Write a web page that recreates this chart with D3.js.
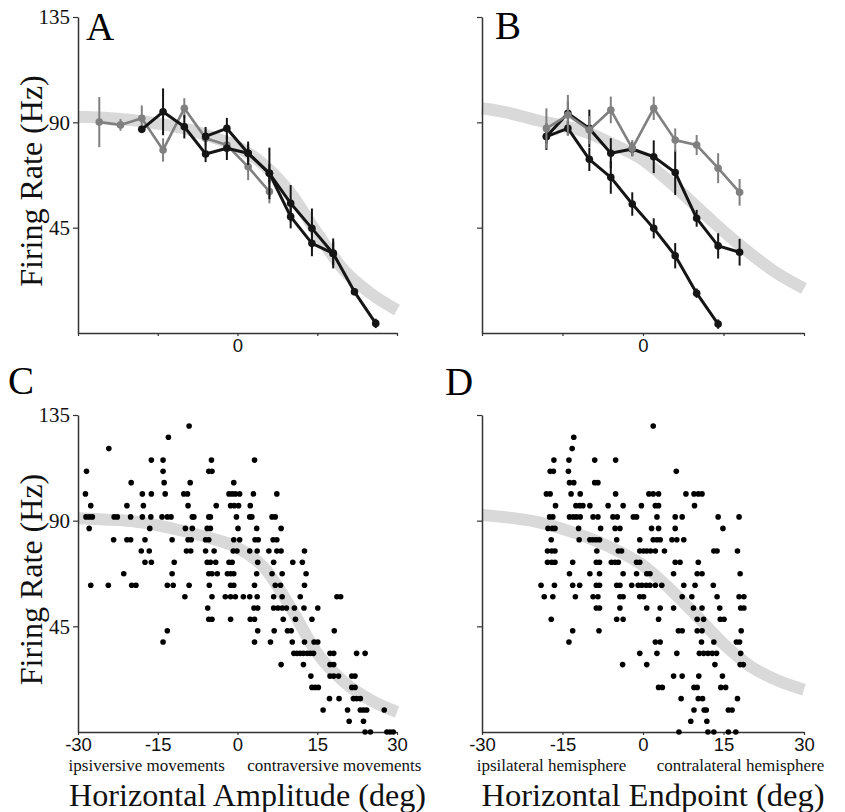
<!DOCTYPE html>
<html>
<head>
<meta charset="utf-8">
<script src="https://cdn.jsdelivr.net/npm/d3@7"></script>
<style>
  body { margin: 0; background: #fff; }
  svg { display: block; }
</style>
</head>
<body>
<div id="chart"></div>
<script>
const W = 845
const H = 812
const SERIF = 'Liberation Serif, Times New Roman, serif'
const SANS = 'Liberation Sans, Arial, sans-serif'

// A: binned mean rate vs horizontal amplitude
const binsA_grey = [-26, -22, -18, -14, -10, -6, -2, 2, 6]
const rateA_grey = [90.1, 88.9, 91.7, 78.2, 96, 83.2, 80.3, 71, 60.4]
const errA_grey = [10.7, 2.5, 5.5, 5, 4.3, 3.5, 4.3, 5.7, 5]
const binsA_black1 = [-18, -14, -10, -6, -2, 2, 6, 10, 14, 18, 22, 26]
const rateA_black1 = [87, 94.5, 88.1, 76.5, 78.9, 76.8, 68.2, 55.4, 44.7, 34, 17.6, 4.1]
const errA_black1 = [1.5, 10, 5, 3.5, 5, 5, 11, 7.8, 8.5, 6.4, 1.5, 2]
const binsA_black2 = [-6, -2, 2, 6, 10, 14, 18]
const rateA_black2 = [84, 87.4, 76.8, 68.2, 49.7, 38.3, 34]
const errA_black2 = [4, 4.5, 4, 4, 5, 5.5, 5]

// B: binned mean rate vs horizontal endpoint
const binsB_grey = [-18, -14, -10, -6, -2, 2, 6, 10, 14, 18]
const rateB_grey = [87.4, 93.1, 86.7, 95.3, 78.9, 96, 82.4, 80.3, 70.4, 60.1]
const errB_grey = [8.6, 8.6, 6, 5.7, 3.5, 5, 5, 4.3, 6.4, 5.7]
const binsB_black1 = [-18, -14, -10, -6, -2, 2, 6, 10, 14, 18]
const rateB_black1 = [83.9, 93.9, 87.4, 76.8, 78.6, 75.3, 68.6, 49, 37.2, 34.5]
const errB_black1 = [5.7, 5, 8, 6.4, 3, 7, 9.6, 3.6, 5.4, 5.7]
const binsB_black2 = [-18, -14, -10, -6, -2, 2, 6, 10, 14]
const rateB_black2 = [83.9, 87.4, 74.2, 66.5, 55.1, 44.7, 33, 17, 3.8]
const errB_black2 = [3, 3, 5, 7, 5, 4.3, 5.4, 2, 2]

// fitted curves (grey bands)
const fitX = [-30, -25, -20, -15, -10, -5, 0, 5, 10, 15, 20, 25, 30]
const fitA = [92.4, 92, 91, 89.5, 87.4, 83.9, 79.6, 71.8, 59.7, 42.6, 26.9, 17, 9.8]
const fitB = [96, 94, 91, 88.5, 85.3, 80, 73.9, 64.5, 54, 43.5, 34, 25.5, 19]
const fitC = [91, 90.5, 89.8, 88, 85.5, 82.5, 78.5, 70, 53, 33.5, 21.4, 13.6, 8.5]
const fitD = [92.4, 91.3, 89.6, 86.5, 82.5, 77.5, 71, 61, 49.5, 37.5, 28, 22, 18]

// C: single trials, [rate, amplitudes]
const dotsC = [
  [130.3, [-9.1]],
  [125.5, [-13]],
  [120.7, [-24.2]],
  [115.8, [-16.2, -14, -4.9, 3.2]],
  [111.0, [-28.4, -14, -5.4, -4.8]],
  [106.2, [-20, -13.8, -8.9, -0.7]],
  [101.4, [-28.6, -17.9, -16.2, -13.6, -10.1, -9.4, -1.6, -1, -0.4, 0.4, 3, 7.4]],
  [96.4, [-27.6, -20.8, -17.7, -9.3, -4, -1.3, -0.6, 0.2, 2.4]],
  [91.6, [-28.5, -27.9, -27.3, -23.2, -22.6, -20.1, -17.9, -16.3, -14.2, -13.2, -12.5, -8.5, -8.2, -5.4, -5.1, -0.2, 2.3, 2.7, 6.5, 7.1]],
  [86.7, [-27.9, -16.5, -9.8, -8.5, -5.7, -5.1, 0.1, 3.6, 8.2]],
  [81.9, [-23.3, -20.8, -20.1, -17.4, -12.3, -9.3, -8.7, -6, -5.4, -0.7, 0.4, 3.3, 3.9, 6.7, 7.4]],
  [77.1, [-18.1, -16.6, -9.6, -8.8, -6, -4.4, -0.8, -0.1, 2.3, 3.7, 5.9, 7.4, 8.2, 12.6]],
  [72.3, [-17.4, -16.2, -11.9, -5.7, -5.1, -4.1, -1.6, -1, 3.8, 6.8, 10.4, 12.2]],
  [67.4, [-21.4, -12.3, -5.4, -4.8, -3.8, -1.9, -1.3, -0.7, 3.6, 6.5, 8.4, 12.9]],
  [62.5, [-27.6, -24.3, -19.9, -19.1, -13.2, -12.1, -9.1, -5.3, -1.3, -0.7, 3.2, 7.1, 8.1, 12.6]],
  [57.6, [-9.9, -4.8, -2.3, -1.3, -0.4, 1.1, 2.3, 3.7, 6.8, 8.4, 11.8, 18.7, 19.4]],
  [52.8, [-5.6, 3.1, 3.8, 6.8, 7.6, 8.4, 9.2, 10.7, 12.5, 15.1]],
  [48.0, [-5.4, -4.8, -1.3, 2.4, 3.2, 8.6, 10.9, 14]],
  [43.1, [-13.2, 3.8, 6.9, 9.4, 10.1, 18.2]],
  [38.3, [-14, 3.2, 6.2, 10.3, 12.6, 14.4, 15.1]],
  [33.5, [10.6, 11.2, 11.8, 12.4, 13.1, 13.7, 14.3, 17.4, 18.1, 22.4, 24]],
  [28.7, [8.2, 12.4, 17.4, 18.1]],
  [23.8, [13.8, 17.4, 18.1, 19, 21.5, 22.1]],
  [19.0, [14, 14.6, 15.2, 21.5, 22.1]],
  [14.2, [17.3, 19.1, 21.8, 22.4, 23.1]],
  [9.4, [16.1, 20.7, 23.1, 23.7, 24.3, 27.6]],
  [4.6, [21, 23.7]],
  [0, [24, 25, 28.1, 28.7, 29.3]]
]

// D: single trials, [rate, endpoints]
const dotsD = [
  [130.3, [1.9]],
  [125.5, [-12.9]],
  [120.7, [-13.2]],
  [115.8, [-16.6, -13.8, -9, -5.1]],
  [111.0, [-17.3, -16.7, -13.9, 6.2]],
  [106.2, [-13.7, -12.9, -9, -8.4]],
  [101.4, [-18, -17.3, -13.4, -11.7, -5.1, 1.1, 1.9, 2.9, 8, 9.5, 10.3, 11]],
  [96.4, [-16.3, -12.5, -11.8, -11.2, -9.9, -6.5, -3.7, -0.3, 2.3, 2.9, 9.6]],
  [91.6, [-17.4, -16.8, -13.7, -13, -12.4, -11.7, -9.3, -8.4, -5.6, -4.8, -1.8, -1.2, 2.6, 6, 7.3, 14, 17.9]],
  [86.7, [-17.7, -16.9, -16.4, -12, -7.9, -5.2, -4.3, 1.6, 2.9, 6, 14.9]],
  [81.9, [-17.1, -11.9, -9.9, -9.3, -8.7, -8.1, -4.9, -0.6, 1.9, 2.6, 3.2, 5.4, 6.3, 7.6]],
  [77.1, [-17.8, -17, -16.4, -8.6, -4.6, -4, -0.6, 0.1, 0.7, 1.4, 2.3, 4, 13.2, 13.8, 17.6]],
  [72.3, [-17.8, -17, -16.4, -13.1, -8.7, -8.1, -5.9, -5.2, -4.6, -1.2, -0.6, 6, 6.9, 10.3]],
  [67.4, [-13.7, -9.9, -8.1, -3.7, -1.2, 0.7, 1.3, 5.7, 10.1, 11, 18.1]],
  [62.5, [-19, -16.5, -13.1, -11.8, -8.7, -8.1, -4.9, -4.3, -2.1, -0.9, -0.2, 0.6, 1.3, 2.3, 3.5, 7.6, 9.7, 13.1]],
  [57.6, [-18.4, -16.8, -12.6, -9.3, -8.4, -4.3, -3.7, -0.6, 0.1, 7.3, 9.1, 13.8, 17.9, 18.8]],
  [52.8, [-8.7, -8.1, -4.3, 0.7, 3.2, 5.7, 9.4, 11, 14.3, 18.2, 18.8]],
  [48.0, [-17.1, -4.9, -3.7, 2.9, 10.1, 11.3, 14.4, 15.1]],
  [43.1, [-13.1, -8.2, 6.6, 7.3, 10.1, 11, 18.3]],
  [38.3, [-13.8, 2.3, 3.2, 10.9, 13.2, 17.4, 18]],
  [33.5, [-0.6, 2.6, 6.3, 10.5, 11.3, 12.1, 12.9, 13.7, 18.2]],
  [28.7, [-3.8, 0.7, 13.4, 18.1, 18.7]],
  [23.8, [5.7, 7.3, 10.4, 14.8]],
  [19.0, [2.9, 3.6, 9.5, 10.1, 14.5, 15.4]],
  [14.2, [7.1, 10.3, 11.1, 17.6]],
  [9.4, [9.5, 11.4, 11.8, 15.9, 16.6]],
  [4.6, [8.9, 11.9]],
  [0, [6.7, 12.1, 13.2, 15.9, 17.3]]
]

const xTicks = [-30, -15, 0, 15, 30]
const yTicks = [45, 90, 135]

const GREY = '#808080'
const BLACK = '#151515'
const BAND = '#d9d9d9'
const AXIS = '#333'

const svg = d3.select('#chart').append('svg').attr('width', W).attr('height', H)

function drawPanel (cfg) {
  const x = d3.scaleLinear().domain([-30, 30]).range([cfg.left, cfg.right])
  const y = d3.scaleLinear().domain([0, 135]).range([cfg.bottom, cfg.top])
  const g = svg.append('g')

  // fitted band
  g.append('path')
    .attr('d', d3.line().x((d, i) => x(fitX[i])).y(d => y(d)).curve(d3.curveMonotoneX)(cfg.fit))
    .attr('fill', 'none').attr('stroke', BAND).attr('stroke-width', 12)

  // axes
  const yAxis = d3.axisLeft(y).tickValues(yTicks).tickSize(5).tickSizeOuter(0).tickPadding(3)
    .tickFormat(cfg.yLabels ? d => String(d) : '')
  const xAxis = d3.axisBottom(x).tickValues(xTicks).tickSize(3).tickSizeOuter(0).tickPadding(3)
    .tickFormat(cfg.xLabels)

  g.append('g').attr('transform', `translate(${cfg.left},0)`).call(yAxis)
    .call(a => {
      a.select('.domain').attr('stroke', AXIS).attr('stroke-width', 1.5)
      a.selectAll('line').attr('stroke', AXIS).attr('stroke-width', 1.2)
      a.selectAll('text').attr('font-family', SERIF).attr('font-size', 21).attr('fill', '#111')
    })
  g.append('g').attr('transform', `translate(0,${cfg.bottom})`).call(xAxis)
    .call(a => {
      a.select('.domain').attr('stroke', AXIS).attr('stroke-width', 1.5)
      a.selectAll('line').attr('stroke', AXIS).attr('stroke-width', 1.2)
      a.selectAll('text').attr('font-family', SANS).attr('font-size', 18.5).attr('fill', '#111')
    })

  // binned series with error bars
  if (cfg.series) {
    cfg.series.forEach(s => {
      const pts = s.bins.map((b, i) => ({x: b, y: s.rate[i], e: s.err[i]}))
      g.append('path')
        .attr('d', d3.line().x(d => x(d.x)).y(d => y(d.y))(pts))
        .attr('fill', 'none').attr('stroke', s.color).attr('stroke-width', s.width)
        .attr('stroke-linejoin', 'round')
      g.selectAll(null).data(pts).enter().append('line')
        .attr('x1', d => x(d.x)).attr('x2', d => x(d.x))
        .attr('y1', d => y(d.y - d.e)).attr('y2', d => y(d.y + d.e))
        .attr('stroke', s.color).attr('stroke-width', 2)
      g.selectAll(null).data(pts).enter().append('circle')
        .attr('cx', d => x(d.x)).attr('cy', d => y(d.y)).attr('r', 3.8)
        .attr('fill', s.color)
    })
  }

  // single trial dots
  if (cfg.dots) {
    const flat = []
    cfg.dots.forEach(([rate, xs]) => xs.forEach(v => flat.push({x: v, y: rate})))
    g.selectAll(null).data(flat).enter().append('circle')
      .attr('cx', d => x(d.x)).attr('cy', d => y(d.y)).attr('r', 2.8)
      .attr('fill', '#000')
  }

  // panel letter
  g.append('text').text(cfg.letter)
    .attr('x', cfg.letterX).attr('y', cfg.letterY)
    .attr('font-family', SERIF).attr('font-size', 39).attr('fill', '#000')

  if (cfg.yTitle) {
    g.append('text').text('Firing Rate (Hz)')
      .attr('transform', `translate(42,${(cfg.top + cfg.bottom) / 2 + 6}) rotate(-90)`)
      .attr('text-anchor', 'middle')
      .attr('font-family', SERIF).attr('font-size', 32).attr('fill', '#111')
  }

  if (cfg.xTitle) {
    const mid = x(0)
    g.append('text').text(cfg.xTitle)
      .attr('x', mid + 10).attr('y', 806).attr('text-anchor', 'middle')
      .attr('textLength', cfg.titleLen).attr('lengthAdjust', 'spacingAndGlyphs')
      .attr('font-family', SERIF).attr('font-size', 32).attr('fill', '#111')
    g.append('text').text(cfg.subLeft)
      .attr('x', x(-15) - 11).attr('y', 771).attr('text-anchor', 'middle')
      .attr('font-family', SERIF).attr('font-size', 17).attr('fill', '#111')
    g.append('text').text(cfg.subRight)
      .attr('x', x(15) + 17).attr('y', 771).attr('text-anchor', 'middle')
      .attr('font-family', SERIF).attr('font-size', 17).attr('fill', '#111')
  }
}

const zeroOnly = d => d === 0 ? '0' : ''
const allTicks = d => String(d)

drawPanel({
  left: 78, right: 397, top: 17, bottom: 333, fit: fitA,
  yLabels: true, xLabels: zeroOnly, letter: 'A', letterX: 86, letterY: 40, yTitle: true,
  series: [
    {bins: binsA_grey, rate: rateA_grey, err: errA_grey, color: GREY, width: 2.6},
    {bins: binsA_black2, rate: rateA_black2, err: errA_black2, color: BLACK, width: 3},
    {bins: binsA_black1, rate: rateA_black1, err: errA_black1, color: BLACK, width: 3}
  ]
})

drawPanel({
  left: 482, right: 804, top: 17, bottom: 333, fit: fitB,
  yLabels: false, xLabels: zeroOnly, letter: 'B', letterX: 495, letterY: 39,
  series: [
    {bins: binsB_black1, rate: rateB_black1, err: errB_black1, color: BLACK, width: 3},
    {bins: binsB_black2, rate: rateB_black2, err: errB_black2, color: BLACK, width: 3},
    {bins: binsB_grey, rate: rateB_grey, err: errB_grey, color: GREY, width: 2.6}
  ]
})

drawPanel({
  left: 78, right: 397, top: 415, bottom: 732, fit: fitC,
  yLabels: true, xLabels: allTicks, letter: 'C', letterX: 8, letterY: 394, yTitle: true,
  dots: dotsC,
  xTitle: 'Horizontal Amplitude (deg)', titleLen: 357,
  subLeft: 'ipsiversive movements', subRight: 'contraversive movements'
})

drawPanel({
  left: 482, right: 804, top: 415, bottom: 732, fit: fitD,
  yLabels: false, xLabels: allTicks, letter: 'D', letterX: 445, letterY: 395,
  dots: dotsD,
  xTitle: 'Horizontal Endpoint (deg)', titleLen: 343,
  subLeft: 'ipsilateral hemisphere', subRight: 'contralateral hemisphere'
})
</script>
</body>
</html>
